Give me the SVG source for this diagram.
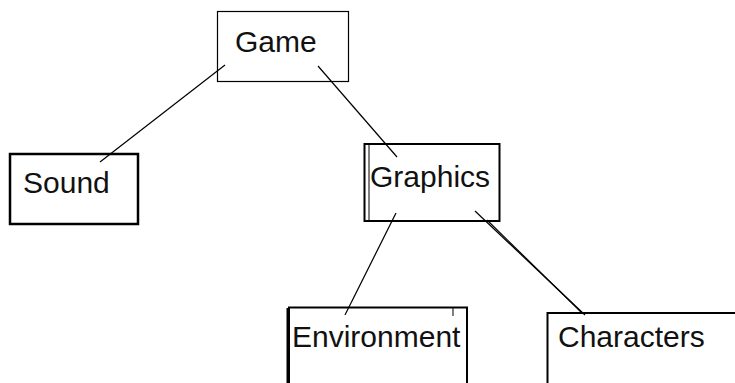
<svg xmlns="http://www.w3.org/2000/svg" width="735" height="383" viewBox="0 0 735 383">
<style>
.box{fill:none;stroke:#000}
.t{font-family:"Liberation Sans",Arial,sans-serif;font-size:30px;fill:#111}
.c{stroke:#000;stroke-width:1.2;fill:none}
</style>
<rect width="735" height="383" fill="#fff"/>
<g id="connectors">
<line class="c" x1="225" y1="65" x2="100" y2="162"/>
<line class="c" x1="318" y1="66" x2="397" y2="157"/>
<line class="c" x1="396" y1="213" x2="345" y2="315"/>
<line class="c" x1="475" y1="211" x2="585" y2="315"/>
<line class="c" x1="487" y1="220" x2="582" y2="313" stroke-width="1"/>
</g>
<g id="game">
<rect class="box" x="217.5" y="11.5" width="131" height="70" stroke-width="1.2"/>
<text class="t" x="235" y="52">Game</text>
</g>
<g id="sound">
<rect class="box" x="10" y="154" width="128" height="70" stroke-width="2.5"/>
<text class="t" x="23" y="193">Sound</text>
</g>
<g id="graphics">
<rect class="box" x="364.5" y="144" width="135" height="77" stroke-width="2"/>
<line class="box" x1="369" y1="145" x2="369" y2="220" stroke-width="1"/>
<text class="t" x="370" y="187">Graphics</text>
</g>
<g id="environment">
<path class="box" d="M289 390 V307.5 H467 V390" stroke-width="2"/>
<line class="box" x1="288" y1="308" x2="288" y2="390" stroke-width="3"/>
<line class="box" x1="453" y1="307" x2="453" y2="316" stroke-width="1"/>
<text class="t" x="292" y="347">Environment</text>
</g>
<g id="characters">
<path class="box" d="M547.5 390 V313 H740" stroke-width="2"/>
<text class="t" x="558" y="347">Characters</text>
</g>
</svg>
